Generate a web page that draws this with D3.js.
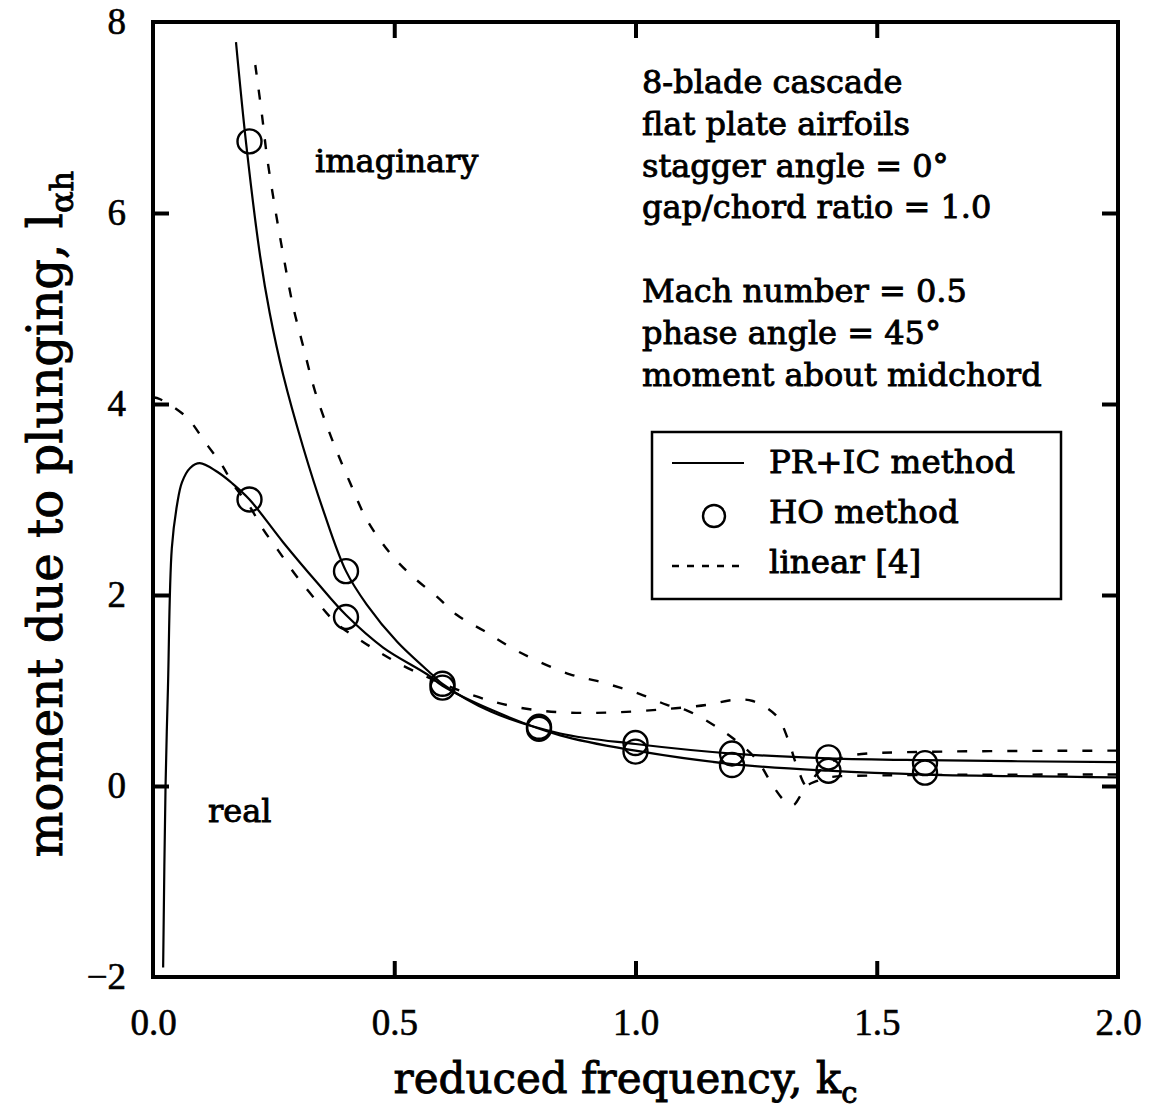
<!DOCTYPE html>
<html>
<head>
<meta charset="utf-8">
<script src="https://cdn.jsdelivr.net/npm/d3@7"></script>
<style>
  body { margin: 0; background: #fff; }
  text { font-family: "DejaVu Serif", serif; fill: #000; }
  .lbl { stroke: #000; stroke-width: 0.9px; }
  .ticklabels text { font-family: "Liberation Serif", serif; font-size: 37px; stroke: #000; stroke-width: 0.6px; }
  .ticklabels path, .ticklabels line { display: none; }
  .tickmarks path { display: none; }
  .tickmarks line { stroke: #000; stroke-width: 4px; }
</style>
</head>
<body>
<div id="chart"></div>
<script>
// reduced frequency ticks and labels
var kTicks = [0, 0.5, 1.0, 1.5, 2.0];
var kTickLabels = ["0.0", "0.5", "1.0", "1.5", "2.0"];
var vTicks = [-2, 0, 2, 4, 6, 8];
var vTickLabels = ["\u22122", "0", "2", "4", "6", "8"];

// PR+IC method (solid lines), [k, l_ah]
var prIcImag = [[0.172, 7.79], [0.193, 6.73], [0.222, 5.55], [0.242, 4.95], [0.270, 4.30],
  [0.311, 3.55], [0.352, 2.90], [0.400, 2.25], [0.443, 1.90], [0.506, 1.51], [0.580, 1.16],
  [0.600, 1.07], [0.700, 0.78], [0.844, 0.55], [1.000, 0.44], [1.200, 0.34], [1.400, 0.29],
  [1.600, 0.27], [2.000, 0.25]];
var prIcReal = [[0.021, -1.90], [0.026, 0.00], [0.031, 1.03], [0.039, 2.49], [0.050, 2.95],
  [0.060, 3.18], [0.077, 3.33], [0.097, 3.38], [0.133, 3.29], [0.164, 3.17], [0.200, 3.00],
  [0.270, 2.55], [0.340, 2.13], [0.400, 1.79], [0.477, 1.45], [0.568, 1.17], [0.600, 1.05],
  [0.700, 0.80], [0.844, 0.53], [1.000, 0.37], [1.200, 0.23], [1.400, 0.16], [1.600, 0.12],
  [2.000, 0.09]];

// HO method (circles)
var hoImag = [[0.2, 6.75], [0.4, 2.25], [0.6, 1.07], [0.8, 0.62], [1.0, 0.45], [1.2, 0.34], [1.4, 0.30], [1.6, 0.24]];
var hoReal = [[0.2, 3.00], [0.4, 1.77], [0.6, 1.03], [0.8, 0.60], [1.0, 0.36], [1.2, 0.22], [1.4, 0.16], [1.6, 0.14]];

// linear [4] (dashed lines)
var linearImag = [[0.212, 7.55], [0.226, 7.02], [0.236, 6.60], [0.253, 6.05], [0.270, 5.56],
  [0.290, 5.03], [0.311, 4.61], [0.336, 4.13], [0.371, 3.63], [0.408, 3.18], [0.443, 2.79],
  [0.491, 2.44], [0.539, 2.19], [0.589, 1.98], [0.630, 1.79], [0.684, 1.63], [0.760, 1.40],
  [0.864, 1.17], [0.920, 1.10], [0.968, 1.03], [1.016, 0.95], [1.065, 0.85], [1.107, 0.79],
  [1.155, 0.66], [1.202, 0.50], [1.252, 0.27], [1.285, 0.00], [1.310, -0.16], [1.327, -0.20],
  [1.342, -0.10], [1.355, 0.00], [1.375, 0.05], [1.400, 0.09], [1.500, 0.11], [2.000, 0.12]];
var linearReal = [[0.000, 4.07], [0.015, 4.05], [0.070, 3.86], [0.108, 3.60], [0.143, 3.36],
  [0.166, 3.16], [0.200, 2.93], [0.228, 2.69], [0.259, 2.47], [0.294, 2.22], [0.332, 1.98],
  [0.381, 1.70], [0.429, 1.53], [0.476, 1.38], [0.526, 1.24], [0.657, 0.96], [0.760, 0.82],
  [0.855, 0.77], [0.950, 0.77], [1.050, 0.80], [1.148, 0.85], [1.202, 0.90], [1.243, 0.89],
  [1.293, 0.73], [1.316, 0.49], [1.335, 0.20], [1.355, 0.00], [1.375, 0.12], [1.400, 0.24],
  [1.440, 0.31], [1.480, 0.34], [2.000, 0.37]];

var infoLines1 = ["8-blade cascade", "flat plate airfoils", "stagger angle = 0\u00b0", "gap/chord ratio = 1.0"];
var infoLines2 = ["Mach number = 0.5", "phase angle = 45\u00b0", "moment about midchord"];
var legendNames = ["PR+IC method", "HO method", "linear [4]"];

var width = 1151;
var height = 1111;
var plot = { left: 153, right: 1118, top: 22, bottom: 977 };

var svg = d3.select("#chart")
  .append("svg")
  .attr("width", width)
  .attr("height", height);

var x = d3.scaleLinear().domain([0, 2]).range([plot.left, plot.right]);
var y = d3.scaleLinear().domain([-2, 8]).range([plot.bottom, plot.top]);

svg.append("clipPath").attr("id", "clip")
  .append("rect")
  .attr("x", plot.left).attr("y", plot.top)
  .attr("width", plot.right - plot.left).attr("height", plot.bottom - plot.top);

// tick labels
svg.append("g")
  .attr("class", "ticklabels")
  .attr("transform", "translate(0," + plot.bottom + ")")
  .call(d3.axisBottom(x).tickValues(kTicks).tickSize(0).tickPadding(32)
    .tickFormat(function (d, i) { return kTickLabels[i]; }));

svg.append("g")
  .attr("class", "ticklabels")
  .attr("transform", "translate(" + plot.left + ",0)")
  .call(d3.axisLeft(y).tickValues(vTicks).tickSize(0).tickPadding(27)
    .tickFormat(function (d, i) { return vTickLabels[i]; }));

// inward tick marks on all four sides
var inner = kTicks.slice(1, -1);
var innerV = vTicks.slice(1, -1);
svg.append("g").attr("class", "tickmarks")
  .attr("transform", "translate(0," + plot.bottom + ")")
  .call(d3.axisBottom(x).tickValues(inner).tickSize(-16).tickFormat(""));
svg.append("g").attr("class", "tickmarks")
  .attr("transform", "translate(0," + plot.top + ")")
  .call(d3.axisTop(x).tickValues(inner).tickSize(-16).tickFormat(""));
svg.append("g").attr("class", "tickmarks")
  .attr("transform", "translate(" + plot.left + ",0)")
  .call(d3.axisLeft(y).tickValues(innerV).tickSize(-16).tickFormat(""));
svg.append("g").attr("class", "tickmarks")
  .attr("transform", "translate(" + plot.right + ",0)")
  .call(d3.axisRight(y).tickValues(innerV).tickSize(-16).tickFormat(""));

// frame
svg.append("rect")
  .attr("x", plot.left).attr("y", plot.top)
  .attr("width", plot.right - plot.left).attr("height", plot.bottom - plot.top)
  .attr("fill", "none").attr("stroke", "#000").attr("stroke-width", 4);

var line = d3.line()
  .x(function (d) { return x(d[0]); })
  .y(function (d) { return y(d[1]); })
  .curve(d3.curveCatmullRom.alpha(0.5));

var curves = svg.append("g").attr("clip-path", "url(#clip)");

[prIcImag, prIcReal].forEach(function (s) {
  curves.append("path").datum(s)
    .attr("d", line)
    .attr("fill", "none").attr("stroke", "#000").attr("stroke-width", 2.2);
});

[linearImag, linearReal].forEach(function (s) {
  curves.append("path").datum(s)
    .attr("d", line)
    .attr("fill", "none").attr("stroke", "#000").attr("stroke-width", 2.4)
    .attr("stroke-dasharray", "10,15");
});

curves.selectAll(".ho")
  .data(hoImag.concat(hoReal))
  .enter().append("circle")
  .attr("class", "ho")
  .attr("cx", function (d) { return x(d[0]); })
  .attr("cy", function (d) { return y(d[1]); })
  .attr("r", 12)
  .attr("fill", "none").attr("stroke", "#000").attr("stroke-width", 2.4);

// annotations
svg.append("text").attr("class", "lbl").attr("x", 315).attr("y", 172)
  .attr("font-size", 32).text("imaginary");
svg.append("text").attr("class", "lbl").attr("x", 208).attr("y", 822)
  .attr("font-size", 32).text("real");

svg.append("g").selectAll("text")
  .data(infoLines1.concat([""], infoLines2))
  .enter().append("text")
  .attr("class", "lbl")
  .attr("x", 642)
  .attr("y", function (d, i) { return 93 + i * 41.8; })
  .attr("font-size", 32)
  .text(function (d) { return d; });

// legend
var lg = svg.append("g");
lg.append("rect")
  .attr("x", 652).attr("y", 432).attr("width", 409).attr("height", 167)
  .attr("fill", "#fff").attr("stroke", "#000").attr("stroke-width", 2.5);
lg.selectAll("text")
  .data(legendNames)
  .enter().append("text")
  .attr("class", "lbl")
  .attr("x", 769)
  .attr("y", function (d, i) { return 473 + i * 50; })
  .attr("font-size", 32.5)
  .text(function (d) { return d; });
lg.append("line").attr("x1", 672).attr("x2", 744).attr("y1", 463).attr("y2", 463)
  .attr("stroke", "#000").attr("stroke-width", 2.2);
lg.append("circle").attr("cx", 714).attr("cy", 516).attr("r", 11)
  .attr("fill", "none").attr("stroke", "#000").attr("stroke-width", 2.4);
lg.append("line").attr("x1", 672).attr("x2", 746).attr("y1", 566).attr("y2", 566)
  .attr("stroke", "#000").attr("stroke-width", 2.4).attr("stroke-dasharray", "7,8");

// axis titles
var xt = svg.append("text").attr("class", "lbl")
  .attr("x", (plot.left + plot.right) / 2 - 10).attr("y", 1093)
  .attr("text-anchor", "middle").attr("font-size", 42);
xt.append("tspan").text("reduced frequency, k");
xt.append("tspan").attr("dy", 10).attr("font-size", 29).text("c");

var yt = svg.append("text").attr("class", "lbl")
  .attr("transform", "translate(62,514) rotate(-90)")
  .attr("text-anchor", "middle").attr("font-size", 48);
yt.append("tspan").text("moment due to plunging,  l");
yt.append("tspan").attr("dy", 11).attr("font-size", 32).text("\u03b1h");
</script>
</body>
</html>
